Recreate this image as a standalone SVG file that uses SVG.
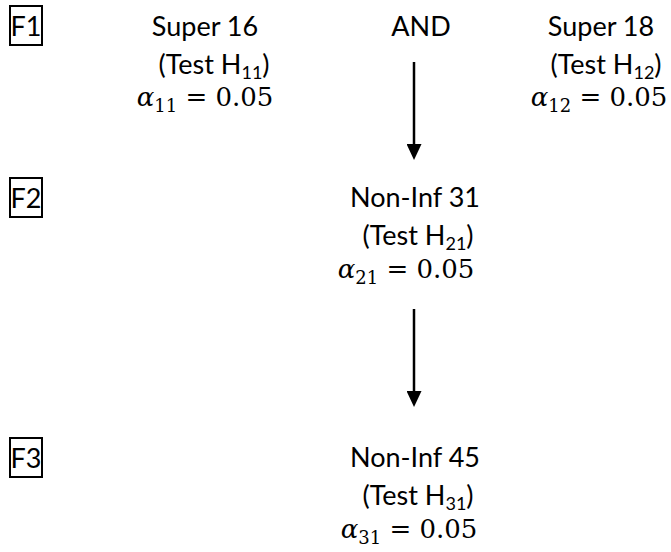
<svg xmlns="http://www.w3.org/2000/svg" width="671" height="552" viewBox="0 0 671 552">
<defs>
<style>
.t{font-family:Lato,"Open Sans","Liberation Sans",sans-serif;font-size:27px;fill:#000;text-anchor:middle}
.m{font-family:"DejaVu Serif","Liberation Serif",serif;font-size:26px;fill:#000;text-anchor:middle}
.mi{font-style:italic}
.s{font-size:18px}
.ms{font-size:18px}
.box{fill:none;stroke:#000;stroke-width:2}
.arr{stroke:#000;stroke-width:2.5;fill:none}
</style>
<marker id="ah" viewBox="0 0 16 15" refX="2" refY="7.5" markerWidth="16" markerHeight="15" markerUnits="userSpaceOnUse" orient="auto">
<path d="M0,0 L16,7.5 L0,15 Z" fill="#000"/>
</marker>
</defs>
<rect width="671" height="552" fill="#fff"/>
<g id="f1"><rect class="box" x="10" y="6" width="32" height="39"/><text class="t" x="26" y="36">F1</text></g>
<g id="f2"><rect class="box" x="10" y="178" width="32" height="39"/><text class="t" x="26" y="208">F2</text></g>
<g id="f3"><rect class="box" x="10" y="438" width="32" height="39"/><text class="t" x="26" y="468">F3</text></g>
<g id="h11">
<text class="t" x="205" y="36">Super 16</text>
<text class="t" x="214" y="74">(Test H<tspan class="s" dy="5">11</tspan><tspan dy="-5">)</tspan></text>
<text class="m" x="205" y="106"><tspan class="mi">α</tspan><tspan class="ms" dy="6">11</tspan><tspan dy="-6"> = 0.05</tspan></text>
</g>
<g id="and"><text class="t" x="421" y="36">AND</text></g>
<g id="h12">
<text class="t" x="601" y="36">Super 18</text>
<text class="t" x="606" y="74">(Test H<tspan class="s" dy="5">12</tspan><tspan dy="-5">)</tspan></text>
<text class="m" x="599" y="106"><tspan class="mi">α</tspan><tspan class="ms" dy="6">12</tspan><tspan dy="-6"> = 0.05</tspan></text>
</g>
<g id="h21">
<text class="t" x="415" y="207">Non-Inf 31</text>
<text class="t" x="418" y="245">(Test H<tspan class="s" dy="5">21</tspan><tspan dy="-5">)</tspan></text>
<text class="m" x="406" y="278"><tspan class="mi">α</tspan><tspan class="ms" dy="6">21</tspan><tspan dy="-6"> = 0.05</tspan></text>
</g>
<g id="h31">
<text class="t" x="415" y="467">Non-Inf 45</text>
<text class="t" x="418" y="505">(Test H<tspan class="s" dy="5">31</tspan><tspan dy="-5">)</tspan></text>
<text class="m" x="409" y="538"><tspan class="mi">α</tspan><tspan class="ms" dy="6">31</tspan><tspan dy="-6"> = 0.05</tspan></text>
</g>
<g id="connectors">
<line class="arr" x1="414" y1="62" x2="414" y2="146" marker-end="url(#ah)"/>
<line class="arr" x1="414" y1="309" x2="414" y2="393" marker-end="url(#ah)"/>
</g>
</svg>
